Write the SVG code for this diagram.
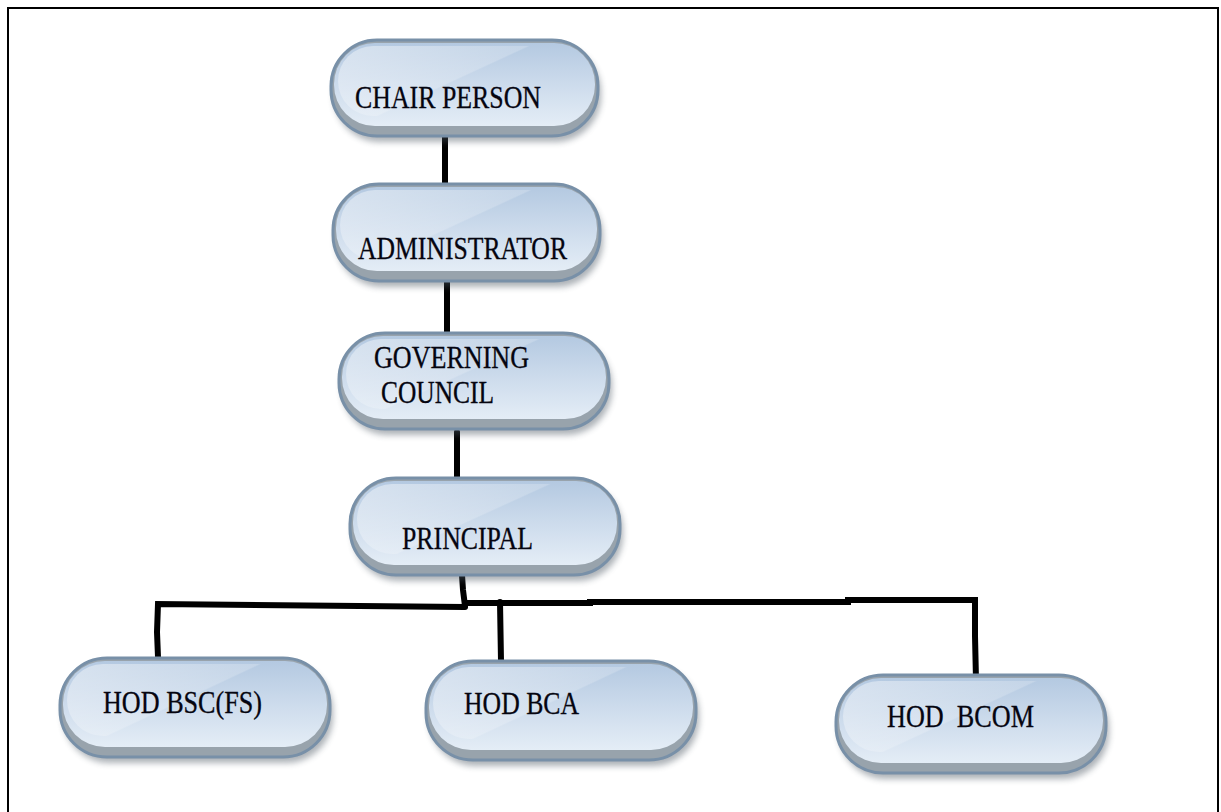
<svg xmlns="http://www.w3.org/2000/svg" width="1221" height="812" viewBox="0 0 1221 812">
<style>
.base{fill:#98a3ac;stroke:#7890a8;stroke-width:3}
.face{fill:url(#faceGrad)}
.gloss{fill:url(#glossGrad)}
.shadow{fill:#4a5560;opacity:.45;filter:url(#blur)}
.lbl{font-family:"Liberation Serif","Times New Roman",serif;font-size:31px;fill:#050510;white-space:pre;stroke:#050510;stroke-width:0.3}
.conn{stroke:#000;stroke-width:6;stroke-linecap:round;fill:none}
</style>
<defs>
<linearGradient id="faceGrad" x1="0" y1="0" x2="0" y2="1">
<stop offset="0" stop-color="#b4c9e1"/>
<stop offset="0.55" stop-color="#cfdded"/>
<stop offset="1" stop-color="#e4edf6"/>
</linearGradient>
<linearGradient id="glossGrad" x1="0" y1="0" x2="1" y2="0.6">
<stop offset="0" stop-color="#ffffff" stop-opacity="0.45"/>
<stop offset="0.55" stop-color="#ffffff" stop-opacity="0.2"/>
<stop offset="0.56" stop-color="#ffffff" stop-opacity="0"/>
<stop offset="1" stop-color="#ffffff" stop-opacity="0"/>
</linearGradient>
<filter id="blur" x="-10%" y="-20%" width="120%" height="150%"><feGaussianBlur stdDeviation="3"/></filter>
</defs>
<rect x="8" y="8" width="1210" height="830" fill="#fff" stroke="#000" stroke-width="2"/>

<g id="connectors">
<line class="conn" x1="445" y1="126" x2="445" y2="187"/>
<line class="conn" x1="447" y1="279" x2="447" y2="332"/>
<line class="conn" x1="457" y1="432" x2="457" y2="482"/>
<polyline class="conn" points="462,575 463,590 465,606"/>
<polyline class="conn" points="158,657 157,632 158,604 465,607"/>
<polyline class="conn" points="465,603 590,603 590,602 848,602 848,600 975,600 975,636 976,680"/>
<line class="conn" x1="500" y1="602" x2="501" y2="661"/>
</g>

<g id="n-chair">
<rect class="shadow" x="334" y="46" width="267" height="96" rx="46"/>
<rect class="base" x="331" y="40" width="267" height="96" rx="46"/>
<rect class="face" x="334" y="43" width="261" height="83" rx="41"/>
<rect class="gloss" x="338" y="46" width="253" height="70" rx="35"/>
<text class="lbl" x="355" y="108" textLength="186" lengthAdjust="spacingAndGlyphs">CHAIR PERSON</text>
</g>

<g id="n-admin">
<rect class="shadow" x="336" y="190" width="267" height="97" rx="46"/>
<rect class="base" x="333" y="184" width="267" height="97" rx="46"/>
<rect class="face" x="336" y="187" width="261" height="84" rx="41"/>
<rect class="gloss" x="340" y="190" width="253" height="70" rx="35"/>
<text class="lbl" x="358" y="259" textLength="209" lengthAdjust="spacingAndGlyphs">ADMINISTRATOR</text>
</g>

<g id="n-gov">
<rect class="shadow" x="342" y="339" width="270" height="96" rx="46"/>
<rect class="base" x="339" y="333" width="270" height="96" rx="46"/>
<rect class="face" x="342" y="336" width="264" height="83" rx="41"/>
<rect class="gloss" x="346" y="339" width="256" height="70" rx="35"/>
<text class="lbl" x="374" y="368" textLength="155" lengthAdjust="spacingAndGlyphs">GOVERNING</text>
<text class="lbl" x="381" y="403" textLength="113" lengthAdjust="spacingAndGlyphs">COUNCIL</text>
</g>

<g id="n-principal">
<rect class="shadow" x="353" y="484" width="270" height="97" rx="46"/>
<rect class="base" x="350" y="478" width="270" height="97" rx="46"/>
<rect class="face" x="353" y="481" width="264" height="84" rx="41"/>
<rect class="gloss" x="357" y="484" width="256" height="70" rx="35"/>
<text class="lbl" x="402" y="549" textLength="131" lengthAdjust="spacingAndGlyphs">PRINCIPAL</text>
</g>

<g id="n-bsc">
<rect class="shadow" x="63" y="664" width="270" height="99" rx="47"/>
<rect class="base" x="60" y="658" width="270" height="99" rx="47"/>
<rect class="face" x="63" y="661" width="264" height="86" rx="42"/>
<rect class="gloss" x="67" y="664" width="256" height="72" rx="36"/>
<text class="lbl" x="103" y="713" textLength="159" lengthAdjust="spacingAndGlyphs">HOD BSC(FS)</text>
</g>

<g id="n-bca">
<rect class="shadow" x="429" y="667" width="270" height="99" rx="47"/>
<rect class="base" x="426" y="661" width="270" height="99" rx="47"/>
<rect class="face" x="429" y="664" width="264" height="86" rx="42"/>
<rect class="gloss" x="433" y="667" width="256" height="72" rx="36"/>
<text class="lbl" x="464" y="714" textLength="115" lengthAdjust="spacingAndGlyphs">HOD BCA</text>
</g>

<g id="n-bcom">
<rect class="shadow" x="839" y="681" width="270" height="98" rx="47"/>
<rect class="base" x="836" y="675" width="270" height="98" rx="47"/>
<rect class="face" x="839" y="678" width="264" height="85" rx="42"/>
<rect class="gloss" x="843" y="681" width="256" height="71" rx="36"/>
<text class="lbl" x="887" y="727" textLength="147" lengthAdjust="spacingAndGlyphs">HOD  BCOM</text>
</g>
</svg>
